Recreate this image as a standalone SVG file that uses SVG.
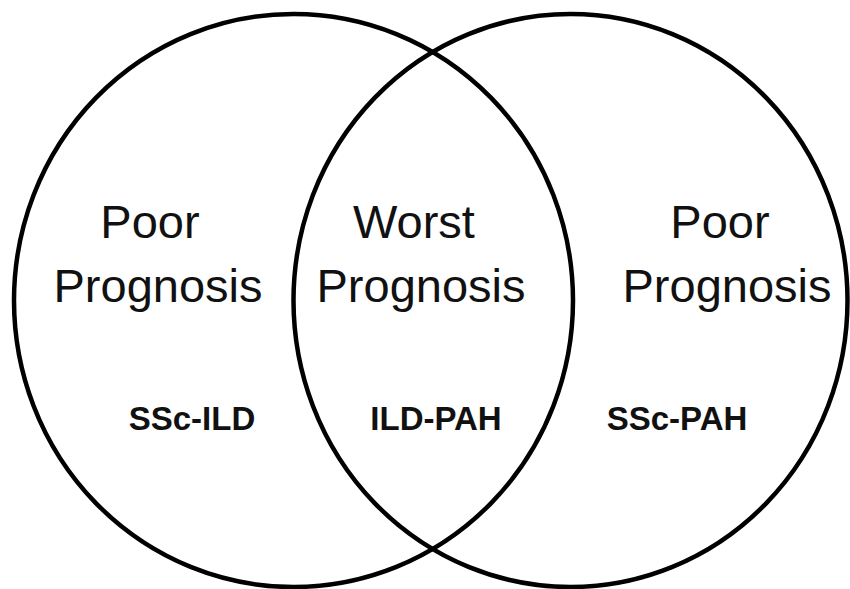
<svg xmlns="http://www.w3.org/2000/svg" width="850" height="589" viewBox="0 0 850 589">
<style>
.c{fill:none;stroke:#000;stroke-width:4.5}
.big{font-family:"Liberation Sans",Arial,sans-serif;font-size:47px;fill:#111;text-anchor:middle}
.small{font-family:"Liberation Sans",Arial,sans-serif;font-size:33px;font-weight:bold;fill:#111;text-anchor:middle}
</style>
<rect width="850" height="589" fill="#fff"/>
<g id="left-circle">
<ellipse class="c" cx="293.5" cy="300.5" rx="279.5" ry="286.5"/>
<text class="big" x="150" y="238">Poor</text>
<text class="big" x="158" y="302">Prognosis</text>
<text class="small" x="192" y="430">SSc-ILD</text>
</g>
<g id="right-circle">
<ellipse class="c" cx="570.5" cy="300.5" rx="277" ry="286.5"/>
<text class="big" x="720" y="238">Poor</text>
<text class="big" x="727" y="302">Prognosis</text>
<text class="small" x="677" y="430">SSc-PAH</text>
</g>
<g id="overlap">
<text class="big" x="414" y="238">Worst</text>
<text class="big" x="421" y="302">Prognosis</text>
<text class="small" x="436" y="430">ILD-PAH</text>
</g>
<g id="connectors"/>
</svg>
